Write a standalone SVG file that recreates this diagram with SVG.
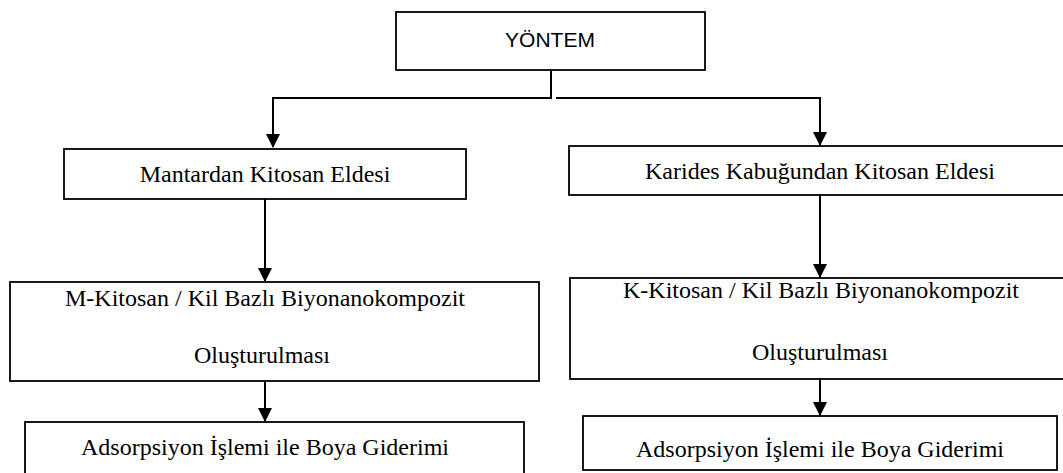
<svg xmlns="http://www.w3.org/2000/svg" width="1063" height="473" viewBox="0 0 1063 473">
  <style>
    .box { fill: #ffffff; stroke: #000000; stroke-width: 1.8; }
    .lbl { font-family: 'Liberation Serif', 'Times New Roman', 'DejaVu Serif', serif; font-size: 24px; fill: #000000; text-anchor: middle; }
    .head { font-family: 'Liberation Sans', Arial, sans-serif; font-size: 21px; fill: #000000; text-anchor: middle; }
    .wire { fill: none; stroke: #000000; stroke-width: 2; }
  </style>
  <defs>
    <marker id="arrow" markerWidth="14" markerHeight="14" refX="13" refY="7" orient="auto" markerUnits="userSpaceOnUse">
      <path d="M0,0 L14,7 L0,14 Z" fill="#000000"/>
    </marker>
  </defs>

  <rect width="1063" height="473" fill="#ffffff"/>

  <!-- connectors -->
  <g id="connectors">
    <path class="wire" d="M551,70 V98 H273 V147" marker-end="url(#arrow)"/>
    <path class="wire" d="M556,98 H820 V145" marker-end="url(#arrow)"/>
    <path class="wire" d="M265,199 V281" marker-end="url(#arrow)"/>
    <path class="wire" d="M265,381 V421" marker-end="url(#arrow)"/>
    <path class="wire" d="M820,195 V277" marker-end="url(#arrow)"/>
    <path class="wire" d="M820,379 V415" marker-end="url(#arrow)"/>
  </g>

  <!-- top node -->
  <g id="yontem">
    <rect class="box" x="396" y="12" width="309" height="58"/>
    <text class="head" x="550" y="47">YÖNTEM</text>
  </g>

  <!-- left branch -->
  <g id="mantar-kitosan">
    <rect class="box" x="64" y="149" width="402" height="50"/>
    <text class="lbl" font-family="Liberation Serif, serif" x="265" y="182">Mantardan Kitosan Eldesi</text>
  </g>
  <g id="m-kitosan-kil">
    <rect class="box" x="10" y="282" width="529" height="99"/>
    <text class="lbl" x="265" y="306">M-Kitosan / Kil Bazlı Biyonanokompozit</text>
    <text class="lbl" x="262" y="363">Oluşturulması</text>
  </g>
  <g id="m-adsorpsiyon">
    <rect class="box" x="25" y="422" width="499" height="70"/>
    <text class="lbl" x="265" y="455">Adsorpsiyon İşlemi ile Boya Giderimi</text>
  </g>

  <!-- right branch -->
  <g id="karides-kitosan">
    <rect class="box" x="569" y="146" width="510" height="49"/>
    <text class="lbl" x="820" y="179">Karides Kabuğundan Kitosan Eldesi</text>
  </g>
  <g id="k-kitosan-kil">
    <rect class="box" x="570" y="278" width="510" height="101"/>
    <text class="lbl" x="821" y="298">K-Kitosan / Kil Bazlı Biyonanokompozit</text>
    <text class="lbl" x="820" y="360">Oluşturulması</text>
  </g>
  <g id="k-adsorpsiyon">
    <rect class="box" x="583" y="416" width="474" height="54"/>
    <text class="lbl" x="820" y="457">Adsorpsiyon İşlemi ile Boya Giderimi</text>
  </g>
</svg>
